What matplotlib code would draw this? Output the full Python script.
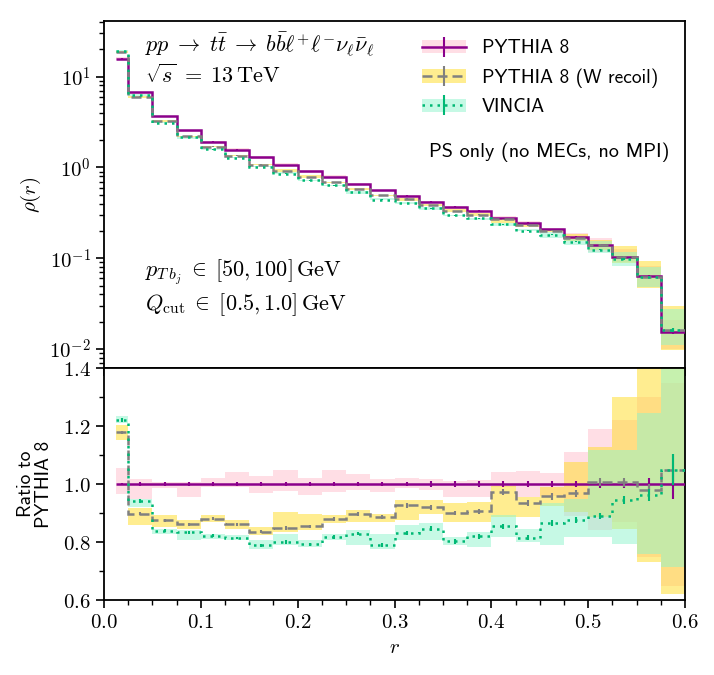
import numpy as np
import matplotlib
matplotlib.use('Agg')
import matplotlib.pyplot as plt
import matplotlib.ticker as ticker
from matplotlib.patches import Patch
from matplotlib.lines import Line2D

plt.rcParams['font.family'] = ['cmss10', 'DejaVu Sans']
plt.rcParams['mathtext.fontset'] = 'cm'
plt.rcParams['axes.unicode_minus'] = False

# bin edges in r
edges = np.array([0.0125, 0.025, 0.05, 0.075, 0.1, 0.125, 0.15, 0.175, 0.2, 0.225, 0.25,
                  0.275, 0.3, 0.325, 0.35, 0.375, 0.4, 0.425, 0.45, 0.475, 0.5, 0.525,
                  0.55, 0.575, 0.6])

# PYTHIA 8 rho(r)
pythia = np.array([15.8, 6.7, 3.7, 2.57, 1.93, 1.57, 1.29, 1.07, 0.91, 0.78, 0.65, 0.56,
                   0.49, 0.42, 0.37, 0.335, 0.277, 0.247, 0.21, 0.173, 0.14, 0.104, 0.064, 0.0156])

# ratios to PYTHIA 8
ratio_wrec = np.array([1.178, 0.898, 0.875, 0.862, 0.881, 0.861, 0.836, 0.849, 0.854, 0.879, 0.896, 0.885,
                       0.926, 0.92, 0.90, 0.906, 0.972, 0.936, 0.958, 0.968, 1.006, 1.006, 0.98, 1.05])
ratio_vincia = np.array([1.221, 0.941, 0.839, 0.833, 0.822, 0.814, 0.789, 0.80, 0.792, 0.817, 0.829, 0.79,
                         0.831, 0.846, 0.802, 0.82, 0.855, 0.815, 0.867, 0.877, 0.89, 0.945, 0.962, 1.05])

# uncertainty bands (as ratio to PYTHIA 8)
pyt_lo = np.array([0.965, 0.950, 0.985, 0.956, 0.99, 0.991, 0.968, 0.977, 0.962, 0.973, 0.979, 0.973,
                   0.985, 0.979, 0.954, 0.954, 0.991, 0.956, 0.96, 0.89, 0.84, 0.87, 0.75, 0.65])
pyt_hi = np.array([1.054, 1.017, 1.008, 1.008, 1.02, 1.043, 1.028, 1.049, 1.02, 1.049, 1.035, 1.016,
                   1.02, 1.016, 1.012, 1.014, 1.043, 1.045, 1.039, 1.112, 1.19, 1.22, 1.3, 1.35])
wrec_lo = np.array([1.153, 0.858, 0.852, 0.846, 0.869, 0.846, 0.823, 0.835, 0.84, 0.864, 0.869, 0.869,
                    0.877, 0.898, 0.869, 0.869, 0.887, 0.887, 0.925, 0.905, 0.887, 0.846, 0.73, 0.62])
wrec_hi = np.array([1.205, 0.916, 0.892, 0.875, 0.892, 0.875, 0.852, 0.904, 0.898, 0.892, 0.91, 0.898,
                    0.945, 0.945, 0.933, 0.939, 0.993, 0.956, 0.99, 1.077, 1.127, 1.30, 1.47, 1.92])
vin_lo = np.array([1.21, 0.921, 0.829, 0.806, 0.812, 0.806, 0.777, 0.788, 0.783, 0.806, 0.788, 0.777,
                   0.806, 0.806, 0.788, 0.783, 0.817, 0.80, 0.788, 0.817, 0.817, 0.794, 0.76, 0.713])
vin_hi = np.array([1.234, 0.95, 0.846, 0.84, 0.829, 0.823, 0.806, 0.829, 0.806, 0.829, 0.84, 0.829,
                   0.858, 0.864, 0.817, 0.835, 0.892, 0.846, 0.933, 0.95, 1.116, 1.118, 1.245, 1.76])

# statistical error (relative)
stat = np.array([0.005, 0.006, 0.006, 0.006, 0.006, 0.006, 0.006, 0.007, 0.007, 0.007, 0.007, 0.008,
                 0.008, 0.009, 0.009, 0.01, 0.01, 0.011, 0.012, 0.012, 0.013, 0.015, 0.02, 0.05])

labels = ['PYTHIA 8', 'PYTHIA 8 (W recoil)', 'VINCIA']
line_cols = ['#8b008b', '#808080', '#00b874']
band_cols = ['#ffbfcc', '#ffdd22', '#8ff5cc']
styles = ['-', (0, (4, 2)), (0, (1, 2))]

centers = 0.5 * (edges[:-1] + edges[1:])
wrec = pythia * ratio_wrec
vincia = pythia * ratio_vincia

fig = plt.figure(figsize=(7.14, 6.75), dpi=100)
ax = fig.add_axes([0.1457, 0.4548, 0.8137, 0.5141])
rax = fig.add_axes([0.1457, 0.1111, 0.8137, 0.3437], sharex=ax)

series = [(pythia, np.ones_like(pythia), pyt_lo, pyt_hi),
          (wrec, ratio_wrec, wrec_lo, wrec_hi),
          (vincia, ratio_vincia, vin_lo, vin_hi)]

for i, (vals, rat, lo, hi) in enumerate(series):
    ax.stairs(pythia * hi, edges, baseline=pythia * lo, fill=True, color=band_cols[i], alpha=0.5, lw=0, zorder=1)
    rax.stairs(hi, edges, baseline=lo, fill=True, color=band_cols[i], alpha=0.5, lw=0, zorder=1)

for i, (vals, rat, lo, hi) in enumerate(series):
    ax.stairs(vals, edges, baseline=None, color=line_cols[i], ls=styles[i], lw=1.8, zorder=3 + i)
    ax.errorbar(centers, vals, yerr=vals * stat, fmt='none', ecolor=line_cols[i], elinewidth=1.5, zorder=3 + i)
    rax.stairs(rat, edges, baseline=None, color=line_cols[i], ls=styles[i], lw=1.8, zorder=3 + i)
    rax.errorbar(centers, rat, yerr=rat * stat, fmt='none', ecolor=line_cols[i], elinewidth=1.5, zorder=3 + i)

ax.set_yscale('log')
ax.set_ylim(0.0062, 41)
ax.set_xlim(0, 0.6)
rax.set_ylim(0.6, 1.4)

ax.yaxis.set_major_formatter(ticker.FuncFormatter(lambda v, p: r'$10^{%d}$' % round(np.log10(v))))
ax.yaxis.set_minor_formatter(ticker.NullFormatter())
ax.tick_params(labelbottom=False)
rax.xaxis.set_major_locator(ticker.MultipleLocator(0.1))
rax.xaxis.set_minor_locator(ticker.MultipleLocator(0.025))
rax.yaxis.set_major_locator(ticker.MultipleLocator(0.2))
rax.yaxis.set_minor_locator(ticker.MultipleLocator(0.1))
rax.xaxis.set_major_formatter(ticker.FuncFormatter(lambda v, p: r'$%.1f$' % v))
rax.yaxis.set_major_formatter(ticker.FuncFormatter(lambda v, p: r'$%.1f$' % v))
for a in (ax, rax):
    a.tick_params(which='major', labelsize=15, length=6, width=1.2)
    a.tick_params(which='minor', length=3.5, width=1)
    for s in a.spines.values():
        s.set_linewidth(1.3)

ax.set_ylabel(r'$\rho(r)$', fontsize=15)
ax.yaxis.set_label_coords(-0.105, 0.5)
rax.set_ylabel('Ratio to\nPYTHIA 8', fontsize=14, linespacing=1.0)
rax.yaxis.set_label_coords(-0.088, 0.5)
rax.set_xlabel(r'$r$', fontsize=15)

ax.text(0.07, 0.93, r'$pp\;\to\; t\bar{t}\;\to\; b\bar{b}\ell^{+}\ell^{-}\nu_{\ell}\bar{\nu}_{\ell}$',
        transform=ax.transAxes, fontsize=16, va='center')
ax.text(0.07, 0.845, r'$\sqrt{s}\; =\; 13\,\mathrm{TeV}$', transform=ax.transAxes, fontsize=16, va='center')
ax.text(0.07, 0.277, r'$p_{T\,b_j}\; \in\; [50, 100]\,\mathrm{GeV}$', transform=ax.transAxes, fontsize=16, va='center')
ax.text(0.07, 0.182, r'$Q_{\mathrm{cut}}\; \in\; [0.5, 1.0]\,\mathrm{GeV}$', transform=ax.transAxes, fontsize=16, va='center')
ax.text(0.974, 0.622, 'PS only (no MECs, no MPI)', transform=ax.transAxes, fontsize=14.5, va='center', ha='right')

handles = []
for i in range(3):
    handles.append((Patch(facecolor=band_cols[i], alpha=0.5, lw=0),
                    Line2D([], [], color=line_cols[i], ls=styles[i], lw=1.8, marker='|', markersize=14, mew=1.5)))
ax.legend(handles, labels, loc='upper left', bbox_to_anchor=(0.53, 0.975), frameon=False, fontsize=14,
          borderpad=0, labelspacing=0.55, handlelength=2.3, handletextpad=0.8, numpoints=1)

fig.savefig('out.png', dpi=100)
